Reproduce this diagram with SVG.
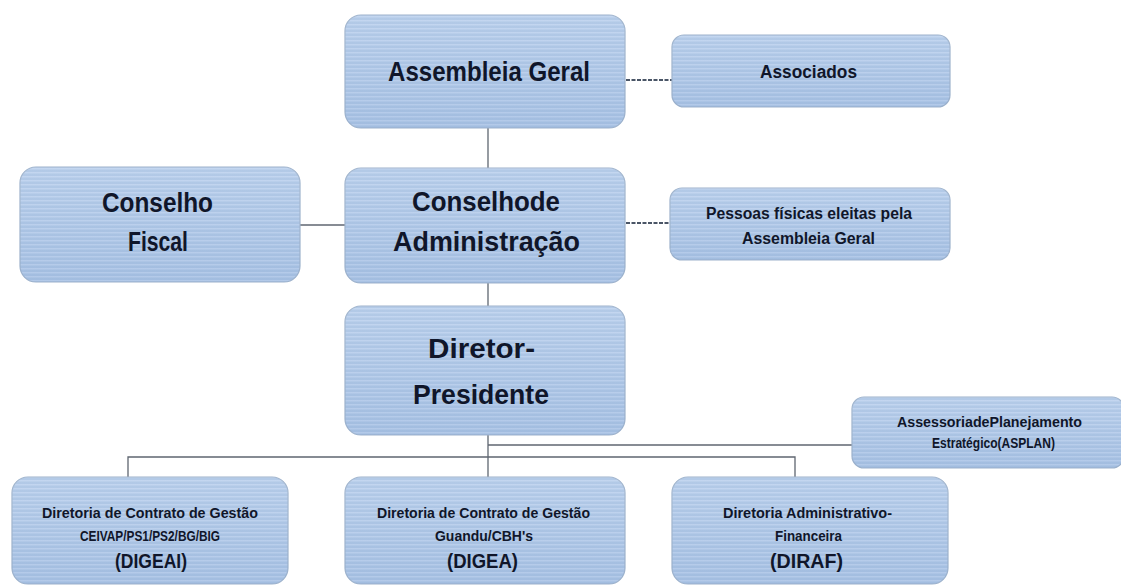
<svg xmlns="http://www.w3.org/2000/svg" width="1121" height="586" viewBox="0 0 1121 586">
  <defs>
    <pattern id="stripes" width="8" height="4" patternUnits="userSpaceOnUse">
      <rect width="8" height="4" fill="#a9c3e4"/>
      <rect y="0" width="8" height="1.5" fill="#bcd1ee"/>
    </pattern>
    <linearGradient id="shade" x1="0" y1="0" x2="0" y2="1">
      <stop offset="0" stop-color="#ffffff" stop-opacity="0.12"/>
      <stop offset="1" stop-color="#6f8fbf" stop-opacity="0.12"/>
    </linearGradient>
  </defs>
  <style>
    .box { fill: url(#stripes); stroke: #9db2cc; stroke-width: 1.2; }
    .sh { fill: url(#shade); stroke: none; }
    .conn { stroke: #5f6670; stroke-width: 1.3; fill: none; }
    .dash { stroke: #4a5566; stroke-width: 2; fill: none; stroke-dasharray: 4 1.5; }
    text { font-family: "Liberation Sans", Arial, sans-serif; font-weight: bold; fill: #10162a; text-anchor: middle; }
    .big { font-size: 28px; }
    .mid { font-size: 18px; }
    .sm { font-size: 15px; }
    .pf { font-size: 16px; }
    .lbl { font-size: 20px; }
  </style>
  <rect width="1121" height="586" fill="#ffffff"/>

  <g id="connectors">
    <line class="conn" x1="488" y1="128" x2="488" y2="168"/>
    <line class="conn" x1="300" y1="225" x2="345" y2="225"/>
    <line class="conn" x1="488" y1="283" x2="488" y2="306"/>
    <line class="conn" x1="488" y1="435" x2="488" y2="477"/>
    <line class="conn" x1="488" y1="445" x2="852" y2="445"/>
    <polyline class="conn" points="128,477 128,457 795,457 795,477"/>
    <line class="dash" x1="626" y1="80" x2="672" y2="80"/>
    <line class="dash" x1="626" y1="223" x2="670" y2="223"/>
  </g>

  <g id="assembleia">
    <rect class="box" x="345" y="15" width="280" height="113" rx="16"/>
    <rect class="sh" x="345" y="15" width="280" height="113" rx="16"/>
    <text class="big" x="489" y="81" textLength="202" lengthAdjust="spacingAndGlyphs">Assembleia Geral</text>
  </g>

  <g id="associados">
    <rect class="box" x="672" y="35" width="278" height="72" rx="12"/>
    <rect class="sh" x="672" y="35" width="278" height="72" rx="12"/>
    <text class="mid" x="808.5" y="78" textLength="97" lengthAdjust="spacingAndGlyphs">Associados</text>
  </g>

  <g id="conselho-fiscal">
    <rect class="box" x="20" y="167" width="280" height="115" rx="16"/>
    <rect class="sh" x="20" y="167" width="280" height="115" rx="16"/>
    <text class="big" x="157.5" y="212" textLength="111" lengthAdjust="spacingAndGlyphs">Conselho</text>
    <text class="big" x="158" y="251" textLength="60" lengthAdjust="spacingAndGlyphs">Fiscal</text>
  </g>

  <g id="conselho-admin">
    <rect class="box" x="345" y="168" width="280" height="115" rx="16"/>
    <rect class="sh" x="345" y="168" width="280" height="115" rx="16"/>
    <text class="big" x="486" y="211" textLength="148" lengthAdjust="spacingAndGlyphs">Conselhode</text>
    <text class="big" x="486.5" y="251" textLength="187" lengthAdjust="spacingAndGlyphs">Administração</text>
  </g>

  <g id="pessoas">
    <rect class="box" x="670" y="188" width="280" height="72" rx="12"/>
    <rect class="sh" x="670" y="188" width="280" height="72" rx="12"/>
    <text class="pf" x="809" y="219" textLength="206" lengthAdjust="spacingAndGlyphs">Pessoas físicas eleitas pela</text>
    <text class="pf" x="808.5" y="244" textLength="133" lengthAdjust="spacingAndGlyphs">Assembleia Geral</text>
  </g>

  <g id="diretor-presidente">
    <rect class="box" x="345" y="306" width="280" height="129" rx="16"/>
    <rect class="sh" x="345" y="306" width="280" height="129" rx="16"/>
    <text class="big" x="481.5" y="358" textLength="107" lengthAdjust="spacingAndGlyphs">Diretor-</text>
    <text class="big" x="481" y="404" textLength="136" lengthAdjust="spacingAndGlyphs">Presidente</text>
  </g>

  <g id="asplan">
    <rect class="box" x="852" y="397" width="272" height="71" rx="12"/>
    <rect class="sh" x="852" y="397" width="272" height="71" rx="12"/>
    <text class="sm" x="989.5" y="427" textLength="185" lengthAdjust="spacingAndGlyphs">AssessoriadePlanejamento</text>
    <text class="sm" x="993.5" y="448" textLength="123" lengthAdjust="spacingAndGlyphs">Estratégico(ASPLAN)</text>
  </g>

  <g id="digeai">
    <rect class="box" x="12" y="477" width="276" height="107" rx="16"/>
    <rect class="sh" x="12" y="477" width="276" height="107" rx="16"/>
    <text class="sm" x="150" y="518" textLength="216" lengthAdjust="spacingAndGlyphs">Diretoria de Contrato de Gestão</text>
    <text class="sm" x="150" y="541" textLength="140" lengthAdjust="spacingAndGlyphs">CEIVAP/PS1/PS2/BG/BIG</text>
    <text class="lbl" x="151" y="568" textLength="72" lengthAdjust="spacingAndGlyphs">(DIGEAI)</text>
  </g>

  <g id="digea">
    <rect class="box" x="345" y="477" width="280" height="107" rx="16"/>
    <rect class="sh" x="345" y="477" width="280" height="107" rx="16"/>
    <text class="sm" x="483.5" y="518" textLength="213" lengthAdjust="spacingAndGlyphs">Diretoria de Contrato de Gestão</text>
    <text class="sm" x="484" y="541" textLength="98" lengthAdjust="spacingAndGlyphs">Guandu/CBH's</text>
    <text class="lbl" x="482.5" y="568" textLength="71" lengthAdjust="spacingAndGlyphs">(DIGEA)</text>
  </g>

  <g id="diraf">
    <rect class="box" x="672" y="477" width="276" height="107" rx="16"/>
    <rect class="sh" x="672" y="477" width="276" height="107" rx="16"/>
    <text class="sm" x="807.5" y="518" textLength="169" lengthAdjust="spacingAndGlyphs">Diretoria Administrativo-</text>
    <text class="sm" x="808.5" y="541" textLength="67" lengthAdjust="spacingAndGlyphs">Financeira</text>
    <text class="lbl" x="806.5" y="568" textLength="73" lengthAdjust="spacingAndGlyphs">(DIRAF)</text>
  </g>
</svg>
